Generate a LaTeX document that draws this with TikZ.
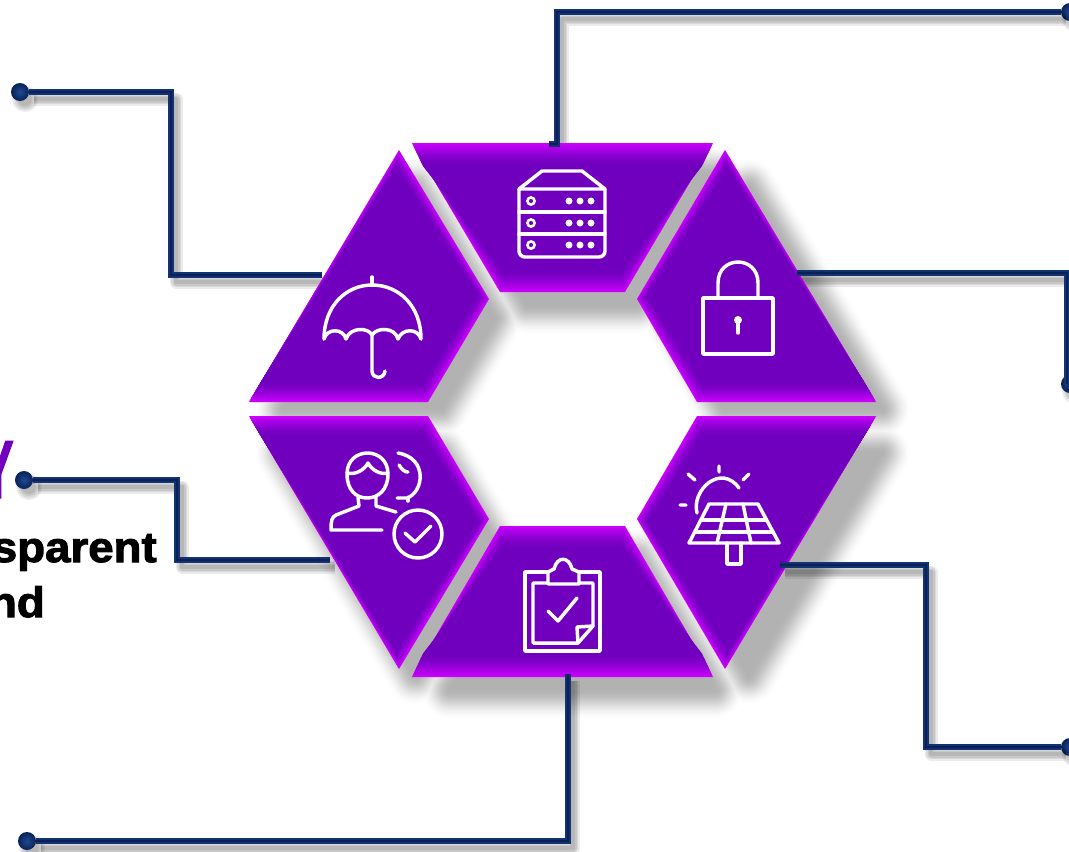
\documentclass[tikz,border=0pt]{standalone}
\usepackage{fontspec}
\setmainfont{Liberation Sans}
\newfontfamily\heavy[FakeBold=2.4,FakeStretch=1.07]{Liberation Sans Bold}
\newfontfamily\heavyY[FakeBold=1.5]{Liberation Sans Bold}
\usetikzlibrary{calc}
\definecolor{basev}{HTML}{7000BE}
\definecolor{brightv}{HTML}{CC00FF}
\definecolor{navy}{HTML}{123272}
\definecolor{navycore}{HTML}{0A2158}
\definecolor{navyhi}{HTML}{1E4A90}
\tikzset{
  dotnode/.style={circle,inner sep=0pt,minimum size=13.5pt,shade,inner color=navyhi,outer color=navycore},
  wirebody/.style={draw=navy,line width=4.4pt,line join=miter},
  wirecore/.style={draw=navycore,line width=2pt,line join=miter},
  icon/.style={draw=white,line width=2.6pt,line cap=round,line join=round},
  blob/.style={fill=white,draw=none},
  bigtext/.style={anchor=base east,inner sep=0pt,text=black,font=\heavy\fontsize{32}{32}\selectfont},
}
% polygons of the six segments, in reference pixels
\def\polyT{(412,143)--(713,143)--(625,292)--(500,292)--cycle}
\def\polyUR{(725,150)--(876,402)--(697,402)--(637,299)--cycle}
\def\polyLR{(697,416)--(876,416)--(725,669)--(637,519)--cycle}
\def\polyB{(500,526)--(625,526)--(713,677)--(412,677)--cycle}
\def\polyLL{(249,416)--(428,416)--(489,519)--(399,669)--cycle}
\def\polyUL{(399,150)--(489,299)--(428,402)--(249,402)--cycle}
% one layer of a segment's soft shadow: #1,#2 centre, #3 polygon
\newcommand{\shadowlayer}[3]{%
  \filldraw[fill=black!\p!white,draw=black!\p!white,line width=\w*0.75pt,line join=round,
    shift={(#1+20,#2+22)},scale=.88,shift={(-#1,-#2)}] #3;}
% soft shadows as nested opaque layers on the white ground, lightest and widest first
\newcommand{\allshadow}{%
  \foreach \t in {0,...,24}{%
    \pgfmathsetmacro{\w}{60*(1-\t/24)}%
    \pgfmathsetmacro{\u}{\t/24}%
    \pgfmathsetmacro{\p}{30*\u*\u*(3-2*\u)}%
    \shadowlayer{562}{218}{\polyT}\shadowlayer{756}{276}{\polyUR}\shadowlayer{756}{542}{\polyLR}%
    \shadowlayer{562}{601}{\polyB}\shadowlayer{369}{542}{\polyLL}\shadowlayer{369}{276}{\polyUL}}}
% #1,#2 centre  #3 polygon  #4 last y scale  #5 last x scale
\newcommand{\hexface}[5]{%
  \foreach \t in {0,...,20}{%
    \pgfmathsetmacro{\p}{100*(1-\t/20)^1.6}%
    \pgfmathsetmacro{\sy}{1-(1-#4)*\t/20}%
    \pgfmathsetmacro{\sx}{1-(1-#5)*\t/20}%
    \fill[color=brightv!\p!basev,shift={(#1,#2)},xscale=\sx,yscale=\sy,shift={(-#1,-#2)}] #3;}}
\newcommand{\wireshadow}[1]{%
  \foreach \w in {13,10,7,4}{%
    \draw[black,opacity=.08,line width=\w*0.75pt,line join=round,
      transform canvas={shift={(5,7)}}] #1;}}
\newcommand{\wireface}[1]{\draw[wirebody] #1; \draw[wirecore] #1;}
\newcommand{\dotshadow}[2]{%
  \foreach \r in {13,11,9,7}{%
    \fill[black,opacity=.08] ($(#1,#2)+(5,7)$) circle (\r);}}
\begin{document}
\begin{tikzpicture}[x=0.75pt,y=-0.75pt]
\useasboundingbox (0,0) rectangle (1069,851);
\fill[white] (0,0) rectangle (1069,851);
\clip (0,0) rectangle (1069,851);

% connector corners and free ends
\coordinate (aC1) at (171,92);  \coordinate (aC2) at (171,275); \coordinate (aE) at (322,275);
\coordinate (bC1) at (177,480); \coordinate (bC2) at (177,560); \coordinate (bE) at (330,560);
\coordinate (cC1) at (568,841); \coordinate (cE) at (568,674);
\coordinate (dC1) at (557,12);  \coordinate (dC2) at (557,144); \coordinate (dE) at (549,144);
\coordinate (eE) at (797,273);  \coordinate (eC1) at (1067,273); \coordinate (eC2) at (1067,384);
\coordinate (fE) at (780,565);  \coordinate (fC1) at (926,565); \coordinate (fC2) at (926,747);

% shadows of the segments
\allshadow

% texts
\node[anchor=base east,inner sep=0pt,text=basev,xscale=.6,font=\heavyY\fontsize{62}{62}\selectfont] (txtY) at (14,498) {Y};
\node[bigtext] (txtA) at (157,562) {sparent};
\node[bigtext] (txtB) at (45,617) {nd};

\dotshadow{20}{92}\dotshadow{24}{480}\dotshadow{27}{841}
\dotshadow{1070}{12}\dotshadow{1070}{384}\dotshadow{1070}{747}
\node[dotnode] (dotA) at (20,92) {};
\node[dotnode] (dotB) at (24,480) {};
\node[dotnode] (dotC) at (27,841) {};
\node[dotnode] (dotD) at (1070,12) {};
\node[dotnode] (dotE) at (1070,384) {};
\node[dotnode] (dotF) at (1070,747) {};

\def\wA{(dotA)--(aC1)--(aC2)--(aE)}
\def\wB{(dotB)--(bC1)--(bC2)--(bE)}
\def\wC{(dotC)--(cC1)--(cE)}
\def\wD{(dotD)--(dC1)--(dC2)--(dE)}
\def\wE{(eE)--(eC1)--(eC2)}
\def\wF{(fE)--(fC1)--(fC2)--(dotF)}

\wireshadow{\wA}\wireshadow{\wB}\wireshadow{\wC}
\wireshadow{\wD}\wireshadow{\wE}\wireshadow{\wF}

% segments
\hexface{562}{218}{\polyT}{.70}{.93}
\hexface{756}{276}{\polyUR}{.84}{.90}
\hexface{756}{542}{\polyLR}{.84}{.90}
\hexface{562}{601}{\polyB}{.70}{.93}
\hexface{369}{542}{\polyLL}{.84}{.90}
\hexface{369}{276}{\polyUL}{.84}{.90}

% connectors
\wireface{\wA}\wireface{\wB}\wireface{\wC}\wireface{\wD}\wireface{\wE}\wireface{\wF}

% server
\draw[icon,rounded corners=4.5pt] (519,189)--(519,257)--(605,257)--(605,189);
\draw[icon] (519,189)--(542,171)--(582,171)--(605,189)--cycle;
\draw[icon] (519,212)--(605,212) (519,234)--(605,234);
\foreach \yy in {201,223,245}{
  \draw[draw=white,line width=1.9pt] (531,\yy) circle (3.6);
  \foreach \xx in {569,580,591}{\fill[blob] (\xx,\yy) circle (3.5);}
}
% umbrella
\draw[icon] (372,277)--(372,285);
\draw[icon] (324,339) .. controls (324,306) and (346,285) .. (372,285) .. controls (399,285) and (421,306) .. (421,339);
\draw[icon] (324,339) .. controls (327,328) and (343,328) .. (346,339) .. controls (350,327) and (368,327) .. (372,335) .. controls (377,327) and (395,327) .. (398,339) .. controls (402,328) and (418,328) .. (421,339);
\draw[icon] (372,335)--(372,371) .. controls (372,379) and (384,380) .. (385,371);
% lock
\draw[icon,line cap=butt] (703,298) rectangle (773,354);
\draw[icon] (718,298)--(718,283) .. controls (718,255) and (758,255) .. (758,283)--(758,298);
\fill[blob] (738,320) circle (4);
\draw[icon] (738,320)--(738,333);
% person
\draw[icon] (347,474) .. controls (347,446) and (388,446) .. (388,474) .. controls (388,490) and (378,498) .. (367,498) .. controls (356,498) and (347,490) .. (347,474);
\draw[icon] (347,473) .. controls (356,475) and (364,470) .. (368,463) .. controls (372,470) and (380,475) .. (388,473);
\draw[icon] (358,497)--(359,506)--(336,515) .. controls (332,517) and (331,520) .. (331,530)--(382,530);
\draw[icon] (376,497)--(376,506)--(396,512);
\draw[icon] (418,534) circle (24);
\draw[icon] (405,533)--(415,542)--(431,526);
\draw[icon] (398,453) .. controls (428,458) and (424,492) .. (407,498)--(397,498);
\draw[icon] (399,465) .. controls (402,470) and (405,472) .. (408,472);
\draw[icon] (408,498)--(408,501);
% solar panel
\draw[icon] (709,504)--(758,504)--(779,543)--(689,543)--cycle;
\draw[icon] (701,520)--(766,520) (696,532)--(773,532);
\draw[icon] (726,504)--(717,543) (743,504)--(751,543);
\draw[icon] (727,543)--(727,564)--(741,564)--(741,543);
\draw[icon] (697,513) .. controls (691,490) and (721,463) .. (739,488);
\draw[icon] (719,466)--(719,472) (688,474)--(695,480) (749,474)--(743,480) (680,505)--(686,505);
% clipboard
\draw[icon] (548,572)--(525,572)--(525,651)--(600,651)--(600,572)--(579,572);
\draw[icon] (548,583)--(533,583)--(533,643)--(578,643)--(593,626)--(593,583)--(579,583);
\draw[icon] (593,626)--(577,627)--(578,643);
\draw[icon] (548,572)--(548,584)--(579,584)--(579,572)--(572,569) .. controls (569,556) and (557,556) .. (554,569)--cycle;
\draw[icon] (548,611)--(558,621)--(577,598);
\end{tikzpicture}
\end{document}
